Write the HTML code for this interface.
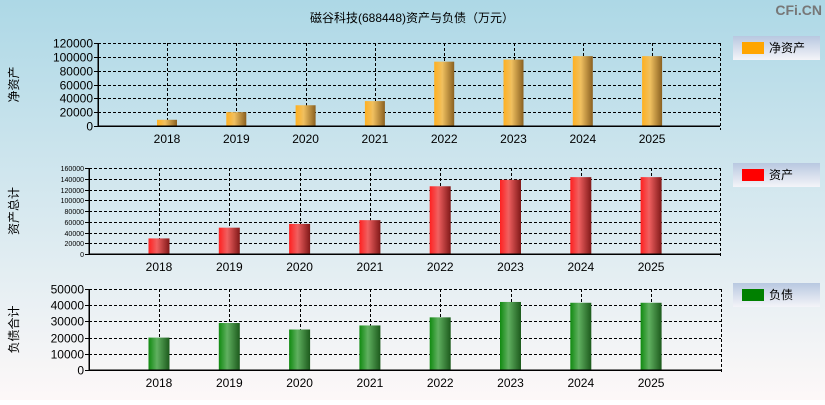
<!DOCTYPE html>
<html><head><meta charset="utf-8"><style>
body{margin:0;width:825px;height:400px;overflow:hidden;font-family:"Liberation Sans","Noto Sans CJK SC",sans-serif}
line{shape-rendering:crispEdges}
</style></head><body>
<svg id="c" width="825" height="400" xmlns="http://www.w3.org/2000/svg">
<defs>
<linearGradient id="bg" x1="0" y1="0" x2="0" y2="1"><stop offset="0" stop-color="#add8e6"/><stop offset="1" stop-color="#fdf8f8"/></linearGradient>
<linearGradient id="lg" x1="0" y1="0" x2="0" y2="1"><stop offset="0" stop-color="#b8c8e0"/><stop offset="1" stop-color="#f4f4f8"/></linearGradient>
<linearGradient id="gO" x1="0" x2="1"><stop offset="0" stop-color="#ffb020"/><stop offset="0.4" stop-color="#f0c060"/><stop offset="1" stop-color="#8a6020"/></linearGradient>
<linearGradient id="gR" x1="0" x2="1"><stop offset="0" stop-color="#ff2020"/><stop offset="0.4" stop-color="#f06060"/><stop offset="1" stop-color="#801818"/></linearGradient>
<linearGradient id="gG" x1="0" x2="1"><stop offset="0" stop-color="#108a10"/><stop offset="0.4" stop-color="#60b060"/><stop offset="1" stop-color="#1c5a1c"/></linearGradient>
</defs>
<rect width="825" height="400" fill="url(#bg)"/>
<text x="412" y="22" text-anchor="middle" font-size="12" fill="#000">磁谷科技(688448)资产与负债（万元）</text>
<text x="822" y="15" text-anchor="end" font-size="14" font-weight="bold" fill="#777">CFi.CN</text>
<g id="panels"></g>
</svg>
<script>
const years = ["2018","2019","2020","2021","2022","2023","2024","2025"];
const netAssets = [9000,20000,30000,36000,93000,96000,101000,101000];
const totalAssets = [29000,49000,56000,63000,126000,138000,143000,143000];
const liabilities = [20000,29000,25000,27500,32500,42000,41500,41500];
const ticks1 = [0,20000,40000,60000,80000,100000,120000];
const ticks2 = [0,20000,40000,60000,80000,100000,120000,140000,160000];
const ticks3 = [0,10000,20000,30000,40000,50000];
const NS="http://www.w3.org/2000/svg";
const root=document.getElementById('panels');
function el(t,a,p){const e=document.createElementNS(NS,t);for(const k in a)e.setAttribute(k,a[k]);(p||root).appendChild(e);return e;}
const panels=[
 {vals:netAssets,ticks:ticks1,max:120000,x0:98,x1:720,y0:43,y1:126,first:167,step:69.3,fill:"url(#gO)",color:"#ffa500",label:"净资产",ylab:"净资产",ly:36,fs:12,bw:20,key:"net-assets"},
 {vals:totalAssets,ticks:ticks2,max:160000,x0:89,x1:720,y0:168,y1:254,first:159,step:70.3,fill:"url(#gR)",color:"#ff0000",label:"资产",ylab:"资产总计",ly:163,fs:7,bw:21,key:"total-assets"},
 {vals:liabilities,ticks:ticks3,max:50000,x0:89,x1:721,y0:289,y1:370,first:159,step:70.3,fill:"url(#gG)",color:"#008000",label:"负债",ylab:"负债合计",ly:283,fs:12,bw:21,key:"liabilities"}
];
panels.forEach(p=>{
 const g=el('g',{});
 
 
 const ys=v=>p.y1-(v/p.max)*(p.y1-p.y0);
 const xs=i=>p.first+i*p.step;
 p.ticks.forEach(t=>{
  const y=Math.round(ys(t))+0.5;
  if(t>0){const l=el('line',{x1:p.x0,x2:p.x1,y1:y,y2:y,stroke:"#000","stroke-dasharray":"3,2","stroke-width":1},g);
  }
  el('line',{x1:p.x0-4,x2:p.x0,y1:y,y2:y,stroke:"#000"},g);
  const tx=el('text',{x:p.x0-5,y:y+(p.fs>8?4:2.5),"text-anchor":"end","font-size":p.fs,fill:"#000"},g);
  tx.textContent=t;
  
  
 });
 years.forEach((yr,i)=>{
  const x=xs(i);
  const xr=Math.round(x)+0.5;
  el('line',{x1:xr,x2:xr,y1:p.y0,y2:p.y1,stroke:"#000","stroke-dasharray":"3,2"},g);
  const h=p.y1-ys(p.vals[i]);
  const b=el('rect',{x:x-p.bw/2,y:ys(p.vals[i]),width:p.bw,height:h,fill:p.fill},g);
  
  
  const t=el('text',{x:x,y:p.y1+17,"text-anchor":"middle","font-size":12,fill:"#000"},g);
  t.textContent=yr;
  
  
 });
 el('line',{x1:p.x1+0.5,x2:p.x1+0.5,y1:p.y0,y2:p.y1+4,stroke:"#000","stroke-dasharray":"3,2"},g);
 el('line',{x1:p.x0,x2:p.x1,y1:p.y0+0.5,y2:p.y0+0.5,stroke:"#000","stroke-dasharray":"3,2"},g);
 el('line',{x1:p.x0,x2:p.x0,y1:p.y0,y2:p.y1,stroke:"#000","stroke-width":1.5},g);
 el('line',{x1:p.x0,x2:p.x1,y1:p.y1,y2:p.y1,stroke:"#000","stroke-width":1.5},g);
 const cy=(p.y0+p.y1)/2;
 const yl=el('text',{x:0,y:0,"text-anchor":"middle","font-size":12,fill:"#000",transform:`translate(18,${cy}) rotate(-90)`},g);
 yl.textContent=p.ylab;
 
 
 const lg=el('g',{},g);
 
 
 el('rect',{x:733,y:p.ly,width:87,height:24,fill:"url(#lg)"},lg);
 el('rect',{x:742,y:p.ly+6,width:22,height:12,fill:p.color},lg);
 const lt=el('text',{x:769,y:p.ly+16,"font-size":12,fill:"#000"},lg);
 lt.textContent=p.label;
});
</script>
</body></html>
